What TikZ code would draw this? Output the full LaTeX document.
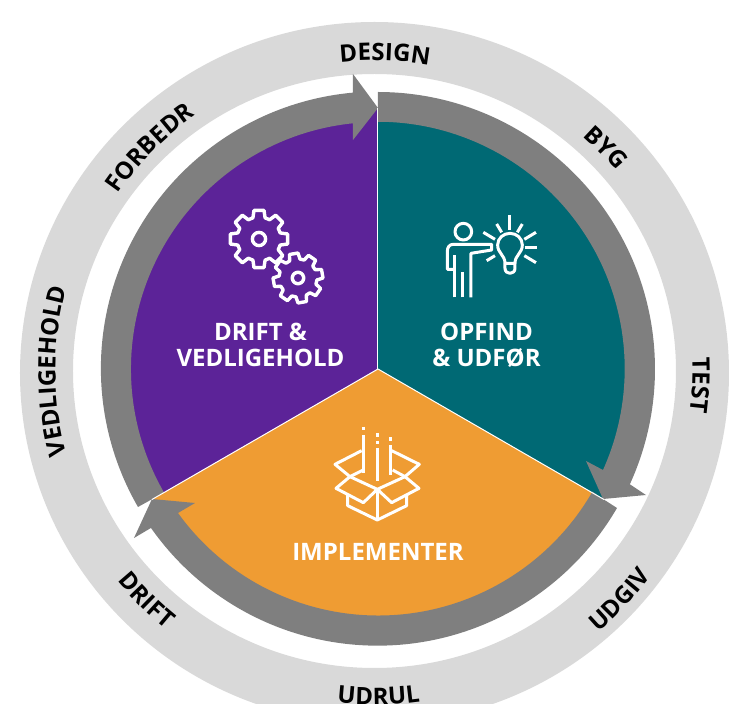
\documentclass[tikz,border=0pt]{standalone}
\usepackage{fontspec}
\setmainfont{Open Sans}
\usetikzlibrary{decorations.text,calc}
\definecolor{ringlight}{HTML}{D9D9D9}
\definecolor{ringdark}{HTML}{7F7F7F}
\definecolor{purplesec}{HTML}{5C2398}
\definecolor{tealsec}{HTML}{006974}
\definecolor{orangesec}{HTML}{EF9C33}
\tikzset{
  x=1pt,y=1pt,
  sector/.style={draw=white,line width=1pt},
  arrowring/.style={fill=ringdark,draw=none},
  icon/.style={draw=white,line width=3pt,line join=round,line cap=butt,fill=none},
  gearline/.style={draw=white,line width=3.4pt,line join=round,fill=none},
  inlabel/.style={text=white,font=\fontsize{24}{26}\selectfont\bfseries,align=center,inner sep=0pt},
  iconzoom/.style={x=0.3333pt,y=-0.3333pt},
}
% clockwise ring label: radius, centre angle, text
\newcommand{\ringcw}[3]{%
  \path[decorate,decoration={text along path,text align=center,
    text={|\fontsize{24}{24}\selectfont\bfseries|#3}}]
    ($(-3.5,-2)+(#2+40:#1)$) arc[start angle=#2+40,end angle=#2-40,radius=#1];}
% counterclockwise ring label: radius, centre angle, text
\newcommand{\ringccw}[3]{%
  \path[decorate,decoration={text along path,text align=center,
    text={|\fontsize{24}{24}\selectfont\bfseries|#3}}]
    ($(-3.5,-2)+(#2-40:#1)$) arc[start angle=#2-40,end angle=#2+40,radius=#1];}
% gear: centre x, y, outer radius, root radius, rotation
\newcommand{\geargl}[5]{%
  \begin{scope}[shift={(#1,#2)},rotate=#5]
    \draw[gearline] (-29:#4)
      \foreach \a in {0,45,...,315}{
        -- (\a-16:#4) -- (\a-10:#3) -- (\a+10:#3) -- (\a+16:#4) -- (\a+29:#4)
      } -- cycle;
    \draw[gearline] (0,0) circle[radius=#4*0.3];
  \end{scope}}
\begin{document}
\begin{tikzpicture}
\useasboundingbox (-378,-335) rectangle (351,369);
\clip (-378,-335) rectangle (351,369);
% light ring
\fill[ringlight,even odd rule] (-3.5,-4) circle[x radius=354.5,y radius=351]
  (-3.5,-2) circle[x radius=301.5,y radius=297];
% sectors
\fill[purplesec] (0,0) -- (90:261) arc[start angle=90,end angle=210,radius=261] -- cycle;
\fill[tealsec] (0,0) -- (90:261) arc[start angle=90,end angle=-30,radius=261] -- cycle;
\fill[orangesec] (0,0) -- (-30:261) arc[start angle=-30,end angle=-150,radius=261] -- cycle;
% dark arrow ring
\fill[arrowring] (0,277) arc[start angle=90,end angle=-24.6,radius=277]
  -- (268,-126) -- (225,-130) -- (208,-92) -- (225,-101)
  arc[start angle=-24.2,end angle=90,radius=247] -- cycle;
\fill[arrowring] (239,-139) arc[start angle=-30.2,end angle=-144.9,radius=277]
  -- (-244,-169) -- (-226,-130) -- (-183,-134) -- (-200,-144)
  arc[start angle=-144.2,end angle=-29.9,radius=247] -- (225,-130) -- cycle;
\fill[arrowring] (-240,-138) arc[start angle=210,end angle=95.18,radius=277]
  -- (-25,295) -- (0,261) -- (-25,229) -- (-25,245.7)
  arc[start angle=95.8,end angle=210,radius=247] -- cycle;
% sector separators
\draw[sector] (0,0) -- (90:261);
\draw[sector] (0,0) -- (-30:261);
\draw[sector] (0,0) -- (210:261);
% ring labels
\ringcw{310.5}{88.1}{DESIGN}
\ringcw{312}{135.2}{FORBEDR}
\ringcw{314}{44}{BYG}
\ringcw{318}{-2.5}{TEST}
\ringcw{319}{180}{VEDLIGEHOLD}
\ringccw{344}{-43}{UDGIV}
\ringccw{334}{-89.3}{UDRUL}
\ringccw{332}{-134.9}{DRIFT}
% gears
\geargl{-119}{130}{29}{22}{0}
\geargl{-80}{91}{25}{19}{10}
% person and bulb
\begin{scope}[shift={(52,169)},iconzoom]
  \draw[icon] (100,95) circle[radius=25];
  \draw[icon] (73,292) -- (73,165);
  \draw[icon] (98,292) -- (98,215);
  \draw[icon] (123,292) -- (123,160) -- (185,150) -- (185,133) -- (70,133) .. controls (58,133) and (52,142) .. (52,155) -- (52,208) -- (73,208);
  \draw[icon] (225,190) .. controls (225,165) and (203,160) .. (203,135) .. controls (203,115) and (220,100) .. (240,100) .. controls (260,100) and (277,115) .. (277,135) .. controls (277,160) and (255,165) .. (255,190) -- cycle;
  \draw[icon] (225,190) -- (225,205) .. controls (225,225) and (255,225) .. (255,205) -- (255,190);
  \draw[icon] (240,45) -- (240,90);
  \draw[icon] (200,72) -- (215,97);
  \draw[icon] (277,72) -- (262,97);
  \draw[icon] (160,97) -- (195,118);
  \draw[icon] (318,97) -- (283,118);
  \draw[icon] (285,142) -- (320,142);
  \draw[icon] (283,167) -- (318,188);
  \draw[icon] (170,182) -- (195,167);
\end{scope}
% box
\begin{scope}[shift={(-58,-51)},iconzoom]
  \draw[icon] (125,92) -- (45,133) -- (90,170) -- (130,150);
  \draw[icon] (215,92) -- (298,133) -- (255,170) -- (218,150);
  \draw[icon] (90,170) -- (48,205) -- (130,248) -- (172,208) -- (215,248) -- (297,205) -- (255,170) -- (172,208) -- (90,170);
  \draw[icon] (83,225) -- (83,257) -- (172,300) -- (260,257) -- (260,225);
  \draw[icon] (172,208) -- (172,300);
  \draw[icon] (130,45) -- (130,160);
  \draw[icon] (130,20) -- (130,31);
  \draw[icon] (172,85) -- (172,182);
  \draw[icon] (172,40) -- (172,50);
  \draw[icon] (172,63) -- (172,73);
  \draw[icon] (212,75) -- (212,166);
  \draw[icon] (212,52) -- (212,62);
\end{scope}
% inner labels
\node[inlabel] (driftlabel) at (-117.5,24) {DRIFT \&\\VEDLIGEHOLD};
\node[inlabel] (opfindlabel) at (108.5,24) {OPFIND\\\& UDFØR};
\node[inlabel] (impllabel) at (0,-183) {IMPLEMENTER};
\end{tikzpicture}
\end{document}
